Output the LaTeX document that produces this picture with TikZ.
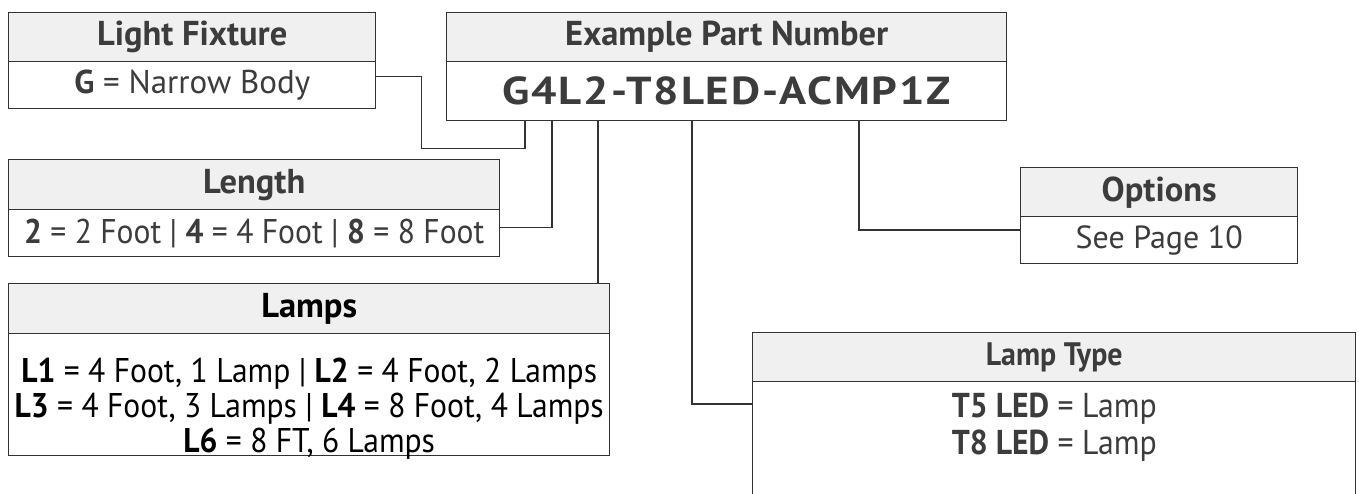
\documentclass[tikz,border=0pt]{standalone}
\usepackage{fontspec}
\setmainfont{PT Sans}
\newfontfamily\condf[FakeStretch=0.92]{PT Sans}
\newfontfamily\pnf[FakeStretch=1.15,LetterSpace=5]{PT Sans}
\definecolor{txt}{HTML}{3C3C3C}
\definecolor{hdr}{HTML}{F0F0F0}
\definecolor{ln}{HTML}{333333}
\begin{document}
\begin{tikzpicture}[x=1pt,y=-1pt,
  hd/.style={draw=ln, line width=1.4pt, fill=hdr, inner sep=0pt, anchor=north west, text=txt,
    font=\fontsize{34.5}{40}\selectfont\bfseries},
  bd/.style={draw=ln, line width=1.4pt, fill=white, inner sep=0pt, anchor=north west, text=txt,
    font=\fontsize{33}{38}\selectfont, align=center},
  cond/.style={font=\condf\fontsize{34.3}{35}\selectfont},
  conn/.style={draw=ln, line width=1.5pt}]
\clip (0,0) rectangle (1359,493);
\fill[white] (0,0) rectangle (1359,493);
% Light Fixture
\node[hd, minimum width=367, minimum height=49] (lfH) at (8,12) {Light Fixture};
\node[bd, minimum width=367, minimum height=47] (lfB) at (8,61) {\textbf{G} = Narrow Body};
% Example part number
\node[hd, minimum width=560, minimum height=49] (pnH) at (446,12) {Example Part Number};
\node[bd, minimum width=560, minimum height=59] (pnB) at (446,61) {\pnf\bfseries\fontsize{39}{42}\selectfont G4L2-T8LED-ACMP1Z};
% Length
\node[hd, minimum width=491, minimum height=50] (lnH) at (8,159) {Length};
\node[bd, cond, minimum width=491, minimum height=47] (lnB) at (8,209)
  {\textbf{2} = 2 Foot | \textbf{4} = 4 Foot | \textbf{8} = 8 Foot};
% Options
\node[hd, minimum width=277, minimum height=49] (opH) at (1020,167) {Options};
\node[bd, minimum width=277, minimum height=47, font=\fontsize{32}{36}\selectfont] (opB) at (1020,216) {See Page 10};
% Lamps
\node[hd, minimum width=601, minimum height=50, text=black] (lmH) at (8,283) {Lamps};
\node[bd, minimum width=601, minimum height=122] (lmB) at (8,333) {};
\node[anchor=north, inner sep=0pt, text=black, align=center, cond] (lmT) at ([yshift=-25]lmB.north)
  {\textbf{L1} = 4 Foot, 1 Lamp | \textbf{L2} = 4 Foot, 2 Lamps\\
   \textbf{L3} = 4 Foot, 3 Lamps | \textbf{L4} = 8 Foot, 4 Lamps\\
   \textbf{L6} = 8 FT, 6 Lamps};
% Lamp Type
\node[hd, minimum width=603, minimum height=49, font=\condf\fontsize{32.5}{38}\selectfont\bfseries] (ltH) at (752,332) {Lamp Type};
\node[bd, minimum width=603, minimum height=140] (ltB) at (752,381) {};
\node[anchor=north, inner sep=0pt, text=txt, align=center, font=\condf\fontsize{34.5}{37}\selectfont] (ltT)
  at ([yshift=-12]ltB.north) {\textbf{T5 LED} = Lamp\\\textbf{T8 LED} = Lamp};
% connectors
\draw[conn] ([yshift=8.5]lfB.east) -- ++(45,0) -- ++(0,72) -| ([xshift=79]pnB.south west);
\draw[conn] ([yshift=5.5]lnB.east) -| ([xshift=106]pnB.south west);
\draw[conn] ([xshift=590]lmH.north west) -- ([xshift=152]pnB.south west);
\draw[conn] ([xshift=246]pnB.south west) |- ([yshift=-23]ltB.north west);
\draw[conn] ([xshift=413]pnB.south west) |- ([yshift=-14]opB.north west);
\end{tikzpicture}
\end{document}
